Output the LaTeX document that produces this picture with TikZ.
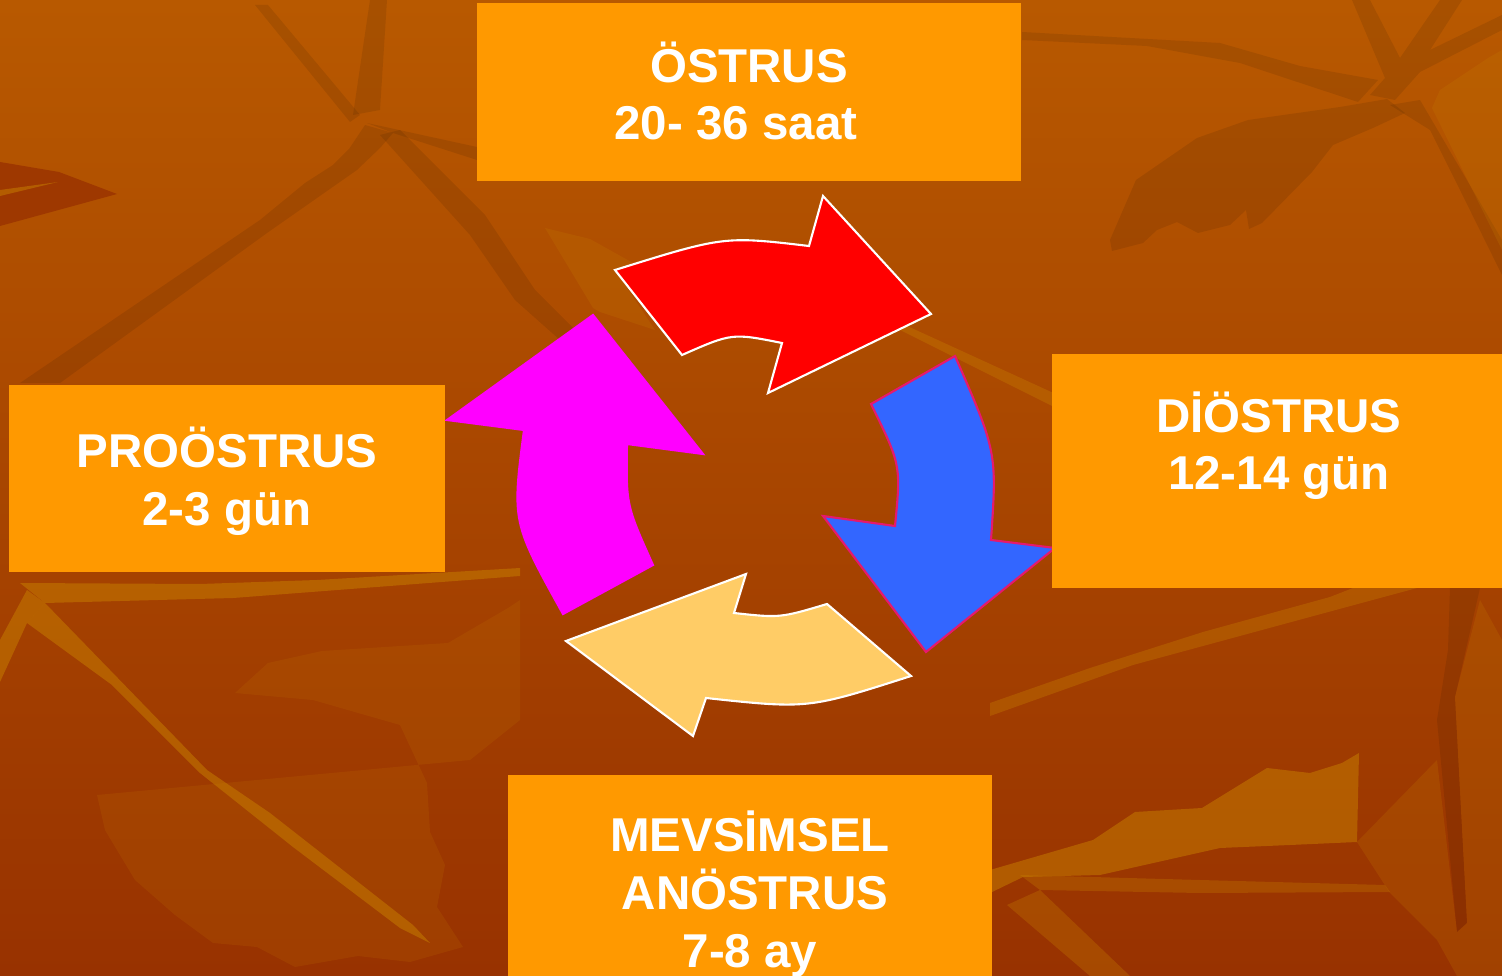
\documentclass[tikz,border=0pt]{standalone}
\usepackage{fontspec}
\setmainfont{Liberation Sans}
\definecolor{bgtop}{RGB}{184,89,0}
\definecolor{bgbot}{RGB}{152,50,0}
\definecolor{bgdeep}{RGB}{158,56,0}
\definecolor{lightc}{RGB}{200,128,0}
\definecolor{boxorange}{RGB}{255,153,0}
\definecolor{arrred}{RGB}{255,0,0}
\definecolor{arrblue}{RGB}{51,102,255}
\definecolor{arrbeige}{RGB}{255,204,102}
\definecolor{arrmag}{RGB}{255,0,255}
\definecolor{bluerim}{RGB}{230,25,110}
\begin{document}
\begin{tikzpicture}[x=0.01cm,y=-0.01cm,
  box/.style={fill=boxorange, draw=none, inner sep=0pt, rectangle},
  lbl/.style={text=white, font=\bfseries\fontsize{13.5}{16.4}\selectfont, align=center, inner sep=0pt, anchor=base},
  arrowshape/.style={line width=0.6pt, line join=miter},
  darkvein/.style={fill=black, fill opacity=0.09},
  lightvein/.style={fill=lightc, fill opacity=0.5},
  lightleaf/.style={fill=lightc, fill opacity=0.2},
]
\useasboundingbox (0,0) rectangle (1502,976);
\clip (0,0) rectangle (1502,976);
% ---------- background ----------
\shade[top color=bgtop, bottom color=bgbot] (0,0) rectangle (1502,976);
% top-left
\fill[bgdeep] (0,162) -- (59,172) -- (117,194) -- (0,226) -- cycle;
\fill[lightvein] (0,190) -- (58,182) -- (0,196) -- cycle;
\fill[darkvein] (20,383) -- (260,220) -- (305,183) -- (333,165) -- (349,149) -- (365,125) -- (393,133) -- (380,148) -- (357,170) -- (267,233) -- (60,383) -- cycle;
\fill[darkvein] (370,0) -- (387,0) -- (380,110) -- (353,115) -- cycle;
\fill[darkvein] (255,5) -- (268,5) -- (360,115) -- (350,122) -- cycle;
\fill[darkvein] (367,123) -- (477,147) -- (477,160) -- (393,133) -- cycle;
\fill[darkvein] (380,135) -- (400,130) -- (485,215) -- (535,290) -- (575,330) -- (560,340) -- (515,300) -- (470,235) -- cycle;
\fill[lightleaf] (545,228) -- (590,239) -- (633,263) -- (615,270) -- (655,330) -- (600,312) -- (593,308) -- cycle;
% top-right
\fill[darkvein] (1022,32) -- (1220,43) -- (1300,66) -- (1378,80) -- (1358,102) -- (1240,63) -- (1147,46) -- (1022,40) -- cycle;
\fill[darkvein] (1352,0) -- (1370,0) -- (1400,58) -- (1440,0) -- (1462,0) -- (1430,50) -- (1502,15) -- (1502,30) -- (1420,72) -- (1395,100) -- (1370,95) -- (1385,78) -- cycle;
\fill[darkvein] (1390,105) -- (1420,100) -- (1502,240) -- (1502,275) -- (1460,190) -- (1430,130) -- cycle;
\fill[darkvein] (1136,180) -- (1110,240) -- (1112,251) -- (1143,243) -- (1157,230) -- (1177,222) -- (1198,233) -- (1230,225) -- (1246,210) -- (1249,229) -- (1262,223) -- (1312,172) -- (1333,145) -- (1373,128) -- (1405,113) -- (1387,99) -- (1340,107) -- (1248,120) -- (1197,138) -- cycle;
\fill[lightleaf] (1502,50) -- (1488,58) -- (1440,90) -- (1432,108) -- (1502,250) -- cycle;
% middle band
\fill[lightvein, fill opacity=0.35] (890,325) -- (905,325) -- (1060,396) -- (1060,410) -- cycle;
% bottom-left
\fill[lightvein] (20,583) -- (200,584) -- (317,580) -- (520,568) -- (520,576) -- (233,598) -- (45,603) -- cycle;
\fill[lightvein] (45,603) -- (207,770) -- (270,813) -- (413,925) -- (430,943) -- (400,928) -- (293,847) -- (200,773) -- (112,685) -- (27,623) -- cycle;
\fill[lightvein] (27,590) -- (45,603) -- (27,623) -- (0,682) -- (0,640) -- cycle;
\fill[lightleaf, fill opacity=0.15] (97,795) -- (105,830) -- (135,880) -- (175,915) -- (213,943) -- (257,947) -- (295,967) -- (358,956) -- (410,962) -- (463,947) -- (437,907) -- (445,865) -- (430,832) -- (427,783) -- (400,725) -- (313,700) -- (235,693) -- (268,663) -- (322,651) -- (448,643) -- (508,608) -- (520,600) -- (520,720) -- (470,760) -- cycle;
% bottom-right
\fill[lightvein, fill opacity=0.35] (990,703) -- (1090,668) -- (1203,632) -- (1330,597) -- (1353,588) -- (1417,588) -- (1343,608) -- (1133,665) -- (990,716) -- cycle;
\fill[lightleaf, fill opacity=0.5] (990,870) -- (1093,840) -- (1135,812) -- (1202,808) -- (1267,768) -- (1310,773) -- (1342,763) -- (1359,753) -- (1357,842) -- (1290,845) -- (1220,848) -- (1100,875) -- (1023,877) -- (990,893) -- cycle;
\fill[lightvein, fill opacity=0.3] (1020,875) -- (1200,880) -- (1385,885) -- (1390,892) -- (1200,893) -- (1040,890) -- cycle;
\fill[lightvein, fill opacity=0.3] (1007,905) -- (1040,890) -- (1130,976) -- (1090,976) -- cycle;
\fill[darkvein] (1450,588) -- (1480,588) -- (1455,697) -- (1467,923) -- (1457,932) -- (1437,720) -- (1448,650) -- cycle;
\fill[lightleaf] (1357,842) -- (1390,893) -- (1437,940) -- (1457,976) -- (1502,976) -- (1502,640) -- (1480,600) -- (1455,697) -- (1467,923) -- (1457,932) -- (1437,760) -- cycle;
% ---------- circular arrows ----------
\path[arrowshape, fill=arrred, draw=white] (615,270) .. controls (724,236) .. (809,246) -- (823,196) -- (931,314) -- (768,393) -- (782,343) .. controls (732,333) .. (682,355) -- cycle;
\path[arrowshape, fill=arrblue, draw=bluerim] (955,356) .. controls (997,452) .. (991,540) -- (1055,548) -- (926,652) -- (823,516) -- (895,526) .. controls (901,465) .. (871,404) -- cycle;
\path[arrowshape, fill=arrbeige, draw=white] (911,676) .. controls (808,709) .. (706,698) -- (693,736) -- (566,641) -- (746,574) -- (734,613) .. controls (780,618) .. (827,604) -- cycle;
\path[arrowshape, fill=arrmag, draw=arrmag] (563,614) .. controls (512,522) .. (524,430) -- (447,420) -- (593,315) -- (703,454) -- (627,444) .. controls (626,505) .. (653,565) -- cycle;
% ---------- boxes ----------
\node[box, minimum width=5.44cm, minimum height=1.775cm] (ostrus) at (749,91.75) {};
\node[box, minimum width=4.36cm, minimum height=1.865cm] (proostrus) at (227,478.25) {};
\node[box, minimum width=4.60cm, minimum height=2.34cm] (diostrus) at (1282,471) {};
\node[box, minimum width=4.84cm, minimum height=2.10cm] (anostrus) at (750,880) {};
% ---------- labels (anchor = baseline of the last line) ----------
\node[lbl] (tostrus) at (749,140) {ÖSTRUS\\20- 36 saat\hspace*{0.26cm}};
\node[lbl] (tproostrus) at (227,525) {PROÖSTRUS\\2-3 gün};
\node[lbl] (tdiostrus) at (1279,490) {DİÖSTRUS\\12-14 gün};
\node[lbl] (tanostrus) at (750,967) {MEVSİMSEL\\\hspace*{0.1cm}ANÖSTRUS\\7-8 ay};
\end{tikzpicture}
\end{document}
